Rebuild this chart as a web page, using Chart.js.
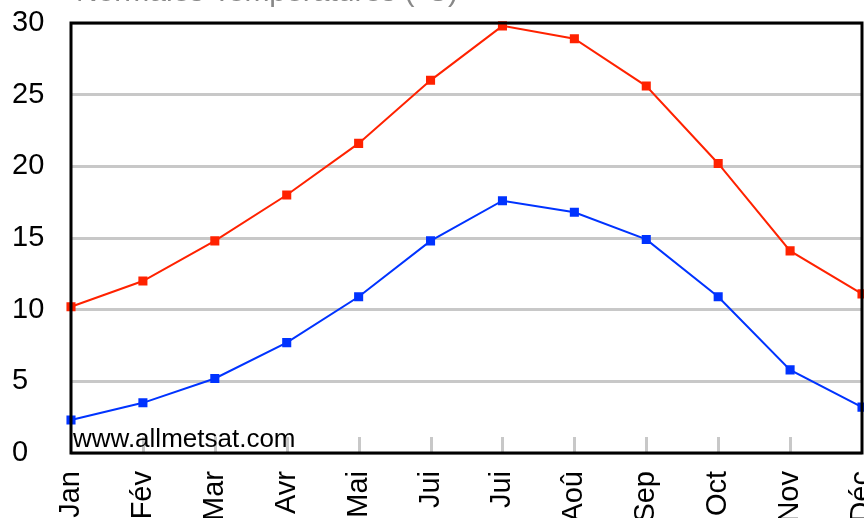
<!DOCTYPE html>
<html lang="fr">
<head>
    <meta charset="UTF-8">
    <title>Normales Températures</title>
    <script src="https://cdn.jsdelivr.net/npm/chart.js"></script>
    <style>
        html, body { margin: 0; padding: 0; background: #fff; overflow: hidden; }
        #wrap { width: 869px; height: 518px; position: relative; }
    </style>
</head>
<body>
    <div id="wrap"><canvas id="tempChart"></canvas></div>
    <script>
        // Monthly labels and normal temperatures (°C)
        const months = ['Jan', 'Fév', 'Mar', 'Avr', 'Mai', 'Jui', 'Jui', 'Aoû', 'Sep', 'Oct', 'Nov', 'Déc'];
        const tempMax = [10.2, 12.0, 14.8, 18.0, 21.6, 26.0, 29.8, 28.9, 25.6, 20.2, 14.1, 11.1];
        const tempMin = [2.3, 3.5, 5.2, 7.7, 10.9, 14.8, 17.6, 16.8, 14.9, 10.9, 5.8, 3.2];
        const yTicks = [0, 5, 10, 15, 20, 25, 30];

        const FONT = "'Liberation Sans', Arial, sans-serif";

        // frame, small tick marks at the bottom, watermark and the clipped title
        const decorations = {
            id: 'decorations',
            afterDatasetsDraw(chart) {
                const ctx = chart.ctx;
                const area = chart.chartArea;
                const x = chart.scales.x;
                ctx.save();
                ctx.strokeStyle = '#c8c8c8';
                ctx.lineWidth = 3;
                for (let i = 1; i < months.length - 1; i++) {
                    const px = Math.round(x.getPixelForTick(i)) + 0.5;
                    ctx.beginPath();
                    ctx.moveTo(px, area.bottom - 16);
                    ctx.lineTo(px, area.bottom);
                    ctx.stroke();
                }
                ctx.fillStyle = '#000';
                ctx.font = '26px ' + FONT;
                ctx.textBaseline = 'alphabetic';
                ctx.textAlign = 'left';
                ctx.fillText('www.allmetsat.com', area.left + 2, area.bottom - 6);

                ctx.strokeStyle = '#000';
                ctx.lineWidth = 3;
                ctx.strokeRect(area.left, area.top, area.right - area.left, area.bottom - area.top);

                // title sits mostly above the picture, only its foot shows
                ctx.fillStyle = '#888';
                ctx.font = '30px ' + FONT;
                ctx.textBaseline = 'bottom';
                ctx.fillText('Normales Températures (°C)', area.left + 5, 8);
                ctx.restore();
            }
        };

        new Chart(document.getElementById('tempChart'), {
            type: 'line',
            data: {
                labels: months,
                datasets: [{
                    label: 'Max',
                    data: tempMax,
                    borderColor: '#ff2200',
                    backgroundColor: '#ff2200',
                    borderWidth: 2,
                    pointStyle: 'rect',
                    pointRadius: 5,
                    tension: 0
                }, {
                    label: 'Min',
                    data: tempMin,
                    borderColor: '#0033ff',
                    backgroundColor: '#0033ff',
                    borderWidth: 2,
                    pointStyle: 'rect',
                    pointRadius: 5,
                    tension: 0
                }]
            },
            options: {
                responsive: true,
                maintainAspectRatio: false,
                animation: false,
                clip: false,
                layout: { padding: { left: 12, top: 23, right: 0, bottom: 0 } },
                plugins: {
                    legend: { display: false },
                    tooltip: { enabled: false }
                },
                scales: {
                    x: {
                        grid: { display: false },
                        border: { display: false },
                        offset: false,
                        ticks: {
                            color: '#000',
                            font: { family: FONT, size: 29 },
                            minRotation: 90,
                            maxRotation: 90,
                            autoSkip: false,
                            padding: 10
                        },
                        afterFit(scale) {
                            scale.height = 65;
                            scale.paddingLeft = 0;
                            scale.paddingRight = 0;
                        }
                    },
                    y: {
                        min: 0,
                        max: 30,
                        afterBuildTicks(scale) {
                            scale.ticks = yTicks.map(v => ({ value: v }));
                        },
                        grid: { color: '#c8c8c8', lineWidth: 3, drawTicks: false },
                        border: { display: false },
                        ticks: {
                            color: '#000',
                            font: { family: FONT, size: 29 },
                            crossAlign: 'far',
                            padding: 0
                        },
                        afterFit(scale) {
                            scale.width = 59;
                            scale.paddingTop = 0;
                            scale.paddingBottom = 0;
                        }
                    }
                }
            },
            plugins: [decorations]
        });
    </script>
</body>
</html>
